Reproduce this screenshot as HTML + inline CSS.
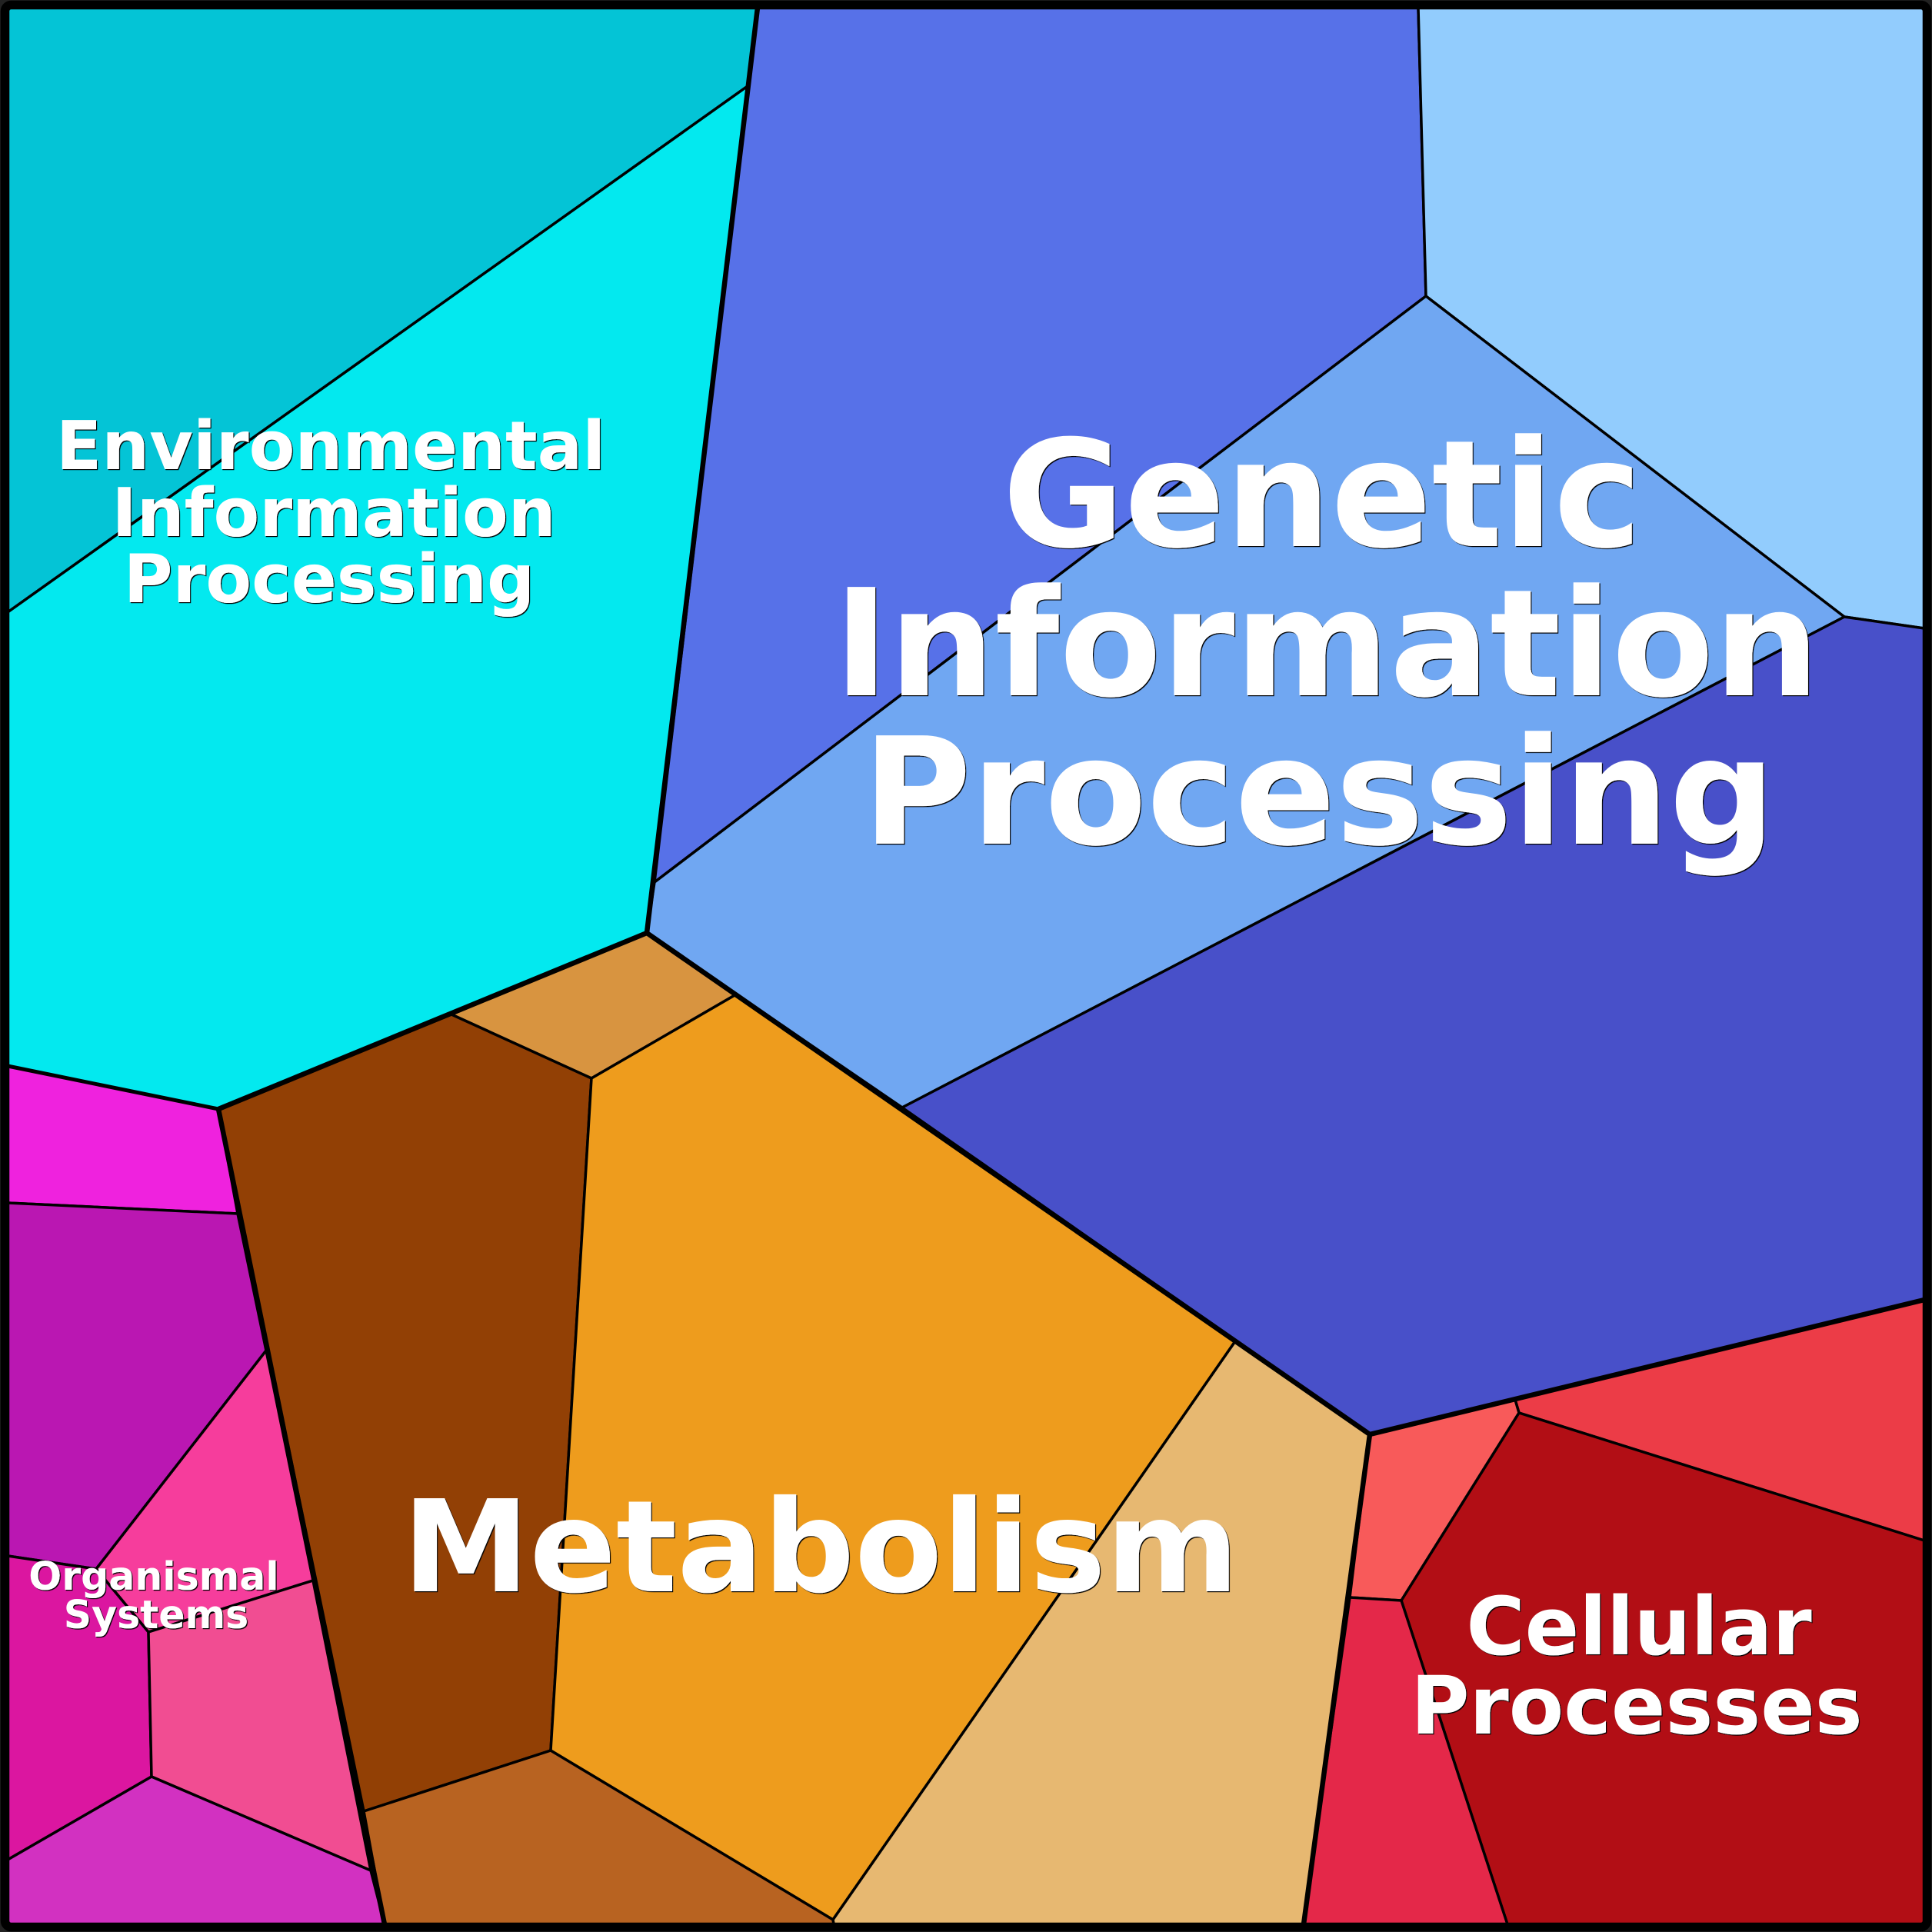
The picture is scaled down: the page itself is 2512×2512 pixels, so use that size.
<!DOCTYPE html>
<html><head><meta charset="utf-8"><style>
html,body{margin:0;padding:0;background:#fff}
svg{display:block}
text{font-family:"DejaVu Sans",sans-serif;font-weight:700;fill:#fff;text-anchor:middle;filter:url(#s)}
</style></head><body>
<svg xmlns="http://www.w3.org/2000/svg" width="2512" height="2512" viewBox="0 0 2512 2512">
<defs><filter id="s" x="-5%" y="-5%" width="110%" height="110%"><feDropShadow dx="1.2" dy="1.2" stdDeviation="0.3" flood-color="#000" flood-opacity="1"/></filter></defs>
<rect x="0" y="0" width="2512" height="2512" fill="#222"/>
<g stroke="#000" stroke-width="3.5" stroke-linejoin="round">
<polygon fill="#04C4D6" points="10,10 985,10 972,112 10,796"/>
<polygon fill="#03E9EF" points="10,796 972,112 841,1213 284,1442 10,1386"/>
<polygon fill="#5771E8" points="985,10 1844,10 1854,385 851,1147"/>
<polygon fill="#92CCFD" points="1844,10 2502,10 2502,817 2398,802 1854,385"/>
<polygon fill="#70A7F2" points="851,1147 1854,385 2398,802 1173,1440 841,1213"/>
<polygon fill="#4850C9" points="2398,802 2502,817 2502,1690 1781,1865 1173,1440"/>
<polygon fill="#D89440" points="587,1319 841,1213 957,1293 769,1402"/>
<polygon fill="#924005" points="284,1442 587,1319 769,1402 716,2276 473,2355"/>
<polygon fill="#EE9C1D" points="769,1402 957,1293 1606,1744 1083,2496 716,2276"/>
<polygon fill="#E7B871" points="1606,1744 1781,1865 1695,2502 1084,2502 1083,2496"/>
<polygon fill="#B86321" points="473,2355 716,2276 1083,2496 1084,2502 500,2502"/>
<polygon fill="#EF22DE" points="10,1386 284,1442 309,1578 10,1564"/>
<polygon fill="#BA17B2" points="10,1564 309,1578 346,1756 125,2040 10,2023"/>
<polygon fill="#F63D9C" points="346,1756 407,2055 193,2122 125,2040"/>
<polygon fill="#DB16A0" points="10,2023 125,2040 193,2122 197,2310 10,2418"/>
<polygon fill="#F14D92" points="193,2122 407,2055 482,2432 197,2310"/>
<polygon fill="#D231C1" points="10,2418 197,2310 482,2432 500,2502 10,2502"/>
<polygon fill="#EC3C47" points="1970,1820 2502,1690 2502,2003 1975,1837"/>
<polygon fill="#F85A5A" points="1781,1865 1970,1820 1975,1837 1822,2081 1755,2077"/>
<polygon fill="#B20E15" points="1975,1837 2502,2003 2502,2502 1960,2502 1822,2081"/>
<polygon fill="#E42849" points="1755,2077 1822,2081 1960,2502 1695,2502"/>
</g>
<g fill="none" stroke="#000" stroke-width="6.5" stroke-linejoin="round">
<polyline points="985,10 841,1213 1781,1865 2502,1690"/>
<polyline points="284,1442 841,1213"/>
<polyline points="284,1442 500,2502"/>
<polyline points="1781,1865 1695,2502"/>
</g>
<polyline points="10,1386 284,1442" fill="none" stroke="#000" stroke-width="5"/>
<rect x="6.5" y="6.5" width="2499" height="2499" rx="8" fill="none" stroke="#000" stroke-width="11.5"/>
<g font-size="193.2">
<text x="1719" y="710">Genetic</text>
<text x="1725" y="904">Information</text>
<text x="1715" y="1097">Processing</text>
</g>
<g font-size="87">
<text x="430" y="610">Environmental</text>
<text x="434" y="697">Information</text>
<text x="428" y="783">Processing</text>
</g>
<text x="1067" y="2069" font-size="166">Metabolism</text>
<g font-size="104">
<text x="2131" y="2151">Cellular</text>
<text x="2128" y="2254">Processes</text>
</g>
<g font-size="50.5">
<text x="200" y="2067">Organismal</text>
<text x="203" y="2117">Systems</text>
</g>
</svg>
</body></html>
